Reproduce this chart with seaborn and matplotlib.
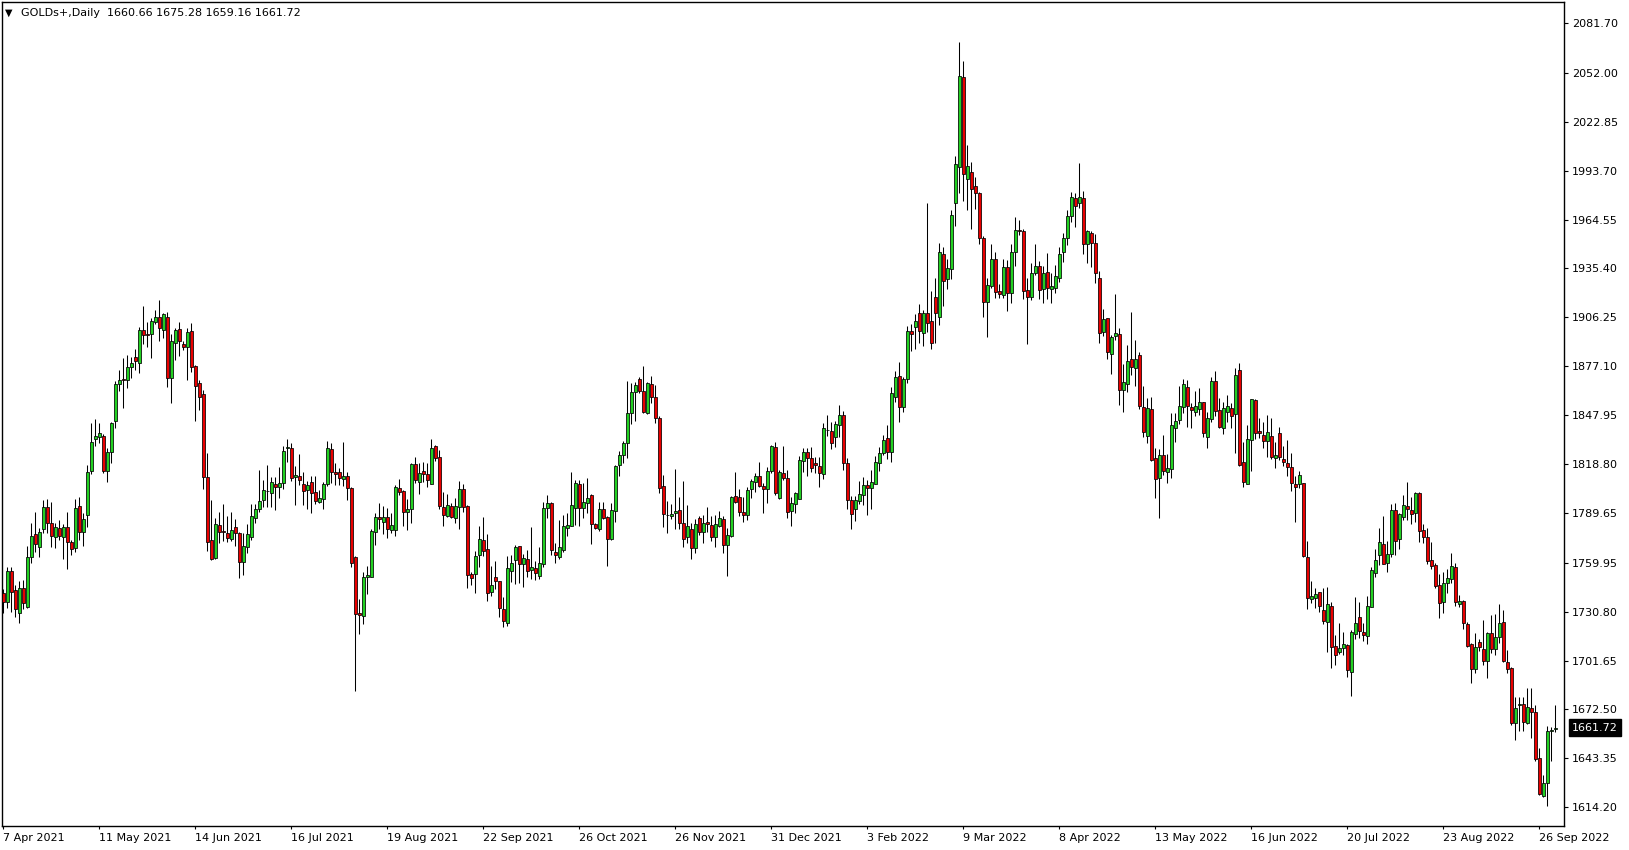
import numpy as np
import pandas as pd
import seaborn as sns
import matplotlib
matplotlib.use('Agg')
import matplotlib.pyplot as plt
import matplotlib.transforms as mtransforms

# daily gold candles, 7 Apr 2021 -> end Sep 2022
SYMBOL = 'GOLDs+,Daily'
OPENS = [
    1741.7, 1736.7, 1755.0, 1743.7, 1729.8, 1744.7, 1733.4, 1763.6, 1777.1, 1769.5,
    1779.9, 1793.2, 1783.4, 1775.1, 1780.5, 1775.5, 1781.1, 1772.1, 1768.5, 1793.8,
    1778.5, 1788.2, 1814.6, 1833.9, 1835.1, 1835.7, 1814.8, 1826.2, 1844.6, 1866.3,
    1869.3, 1868.9, 1876.4, 1882.4, 1879.3, 1898.5, 1896.4, 1896.1, 1903.7, 1906.7,
    1898.5, 1906.3, 1869.9, 1890.8, 1899.1, 1890.4, 1888.8, 1897.9, 1877.1, 1866.9,
    1860.4, 1810.9, 1773.5, 1763.0, 1782.3, 1778.9, 1777.5, 1774.0, 1781.1, 1777.5,
    1760.6, 1769.2, 1775.5, 1786.5, 1792.0, 1797.4, 1802.7, 1801.3, 1806.9, 1804.9,
    1807.3, 1828.6, 1828.2, 1810.9, 1811.7, 1806.9, 1803.3, 1808.1, 1802.1, 1796.4,
    1797.8, 1806.7, 1827.8, 1814.1, 1814.1, 1809.7, 1811.7, 1804.5, 1763.4, 1730.2,
    1728.4, 1751.3, 1751.7, 1778.1, 1787.0, 1784.5, 1787.0, 1779.5, 1779.5, 1804.3,
    1802.7, 1790.4, 1791.8, 1818.8, 1808.3, 1814.5, 1812.7, 1806.7, 1829.6, 1822.8,
    1793.0, 1788.0, 1793.6, 1786.8, 1793.0, 1803.7, 1793.8, 1753.3, 1753.1, 1764.4,
    1773.5, 1768.2, 1742.7, 1751.5, 1749.1, 1732.4, 1724.3, 1755.2, 1761.6, 1770.0,
    1759.4, 1762.0, 1755.7, 1756.7, 1752.3, 1759.0, 1792.8, 1795.4, 1766.4, 1763.2,
    1767.6, 1780.9, 1782.1, 1792.4, 1806.9, 1792.8, 1795.4, 1800.4, 1783.1, 1780.1,
    1791.8, 1787.4, 1773.9, 1791.0, 1818.0, 1824.0, 1831.6, 1849.0, 1861.6, 1869.5,
    1862.4, 1849.4, 1866.5, 1858.6, 1846.1, 1805.7, 1788.4, 1788.1, 1789.4, 1791.4,
    1783.5, 1775.1, 1780.1, 1768.6, 1786.5, 1778.1, 1784.3, 1782.5, 1775.1, 1781.9,
    1786.1, 1770.4, 1775.9, 1799.6, 1799.0, 1790.0, 1788.2, 1803.7, 1808.3, 1811.7,
    1805.7, 1803.7, 1814.9, 1828.8, 1798.4, 1813.3, 1810.3, 1791.0, 1794.8, 1797.8,
    1820.9, 1825.8, 1822.2, 1819.5, 1817.7, 1812.7, 1839.1, 1838.5, 1834.8, 1841.9,
    1847.9, 1819.3, 1797.2, 1791.8, 1797.0, 1800.2, 1806.1, 1804.4, 1806.7, 1819.7,
    1825.2, 1834.2, 1826.2, 1859.0, 1871.3, 1852.6, 1869.7, 1898.0, 1900.3, 1908.7,
    1897.2, 1908.7, 1904.1, 1918.6, 1906.3, 1944.0, 1928.9, 1935.3, 1974.2, 1995.7,
    2049.3, 1988.5, 1992.7, 1984.6, 1980.6, 1953.4, 1915.6, 1925.0, 1940.8, 1922.0,
    1919.6, 1936.1, 1920.6, 1945.0, 1958.1, 1957.7, 1922.6, 1918.6, 1932.5, 1936.9,
    1923.4, 1933.1, 1923.4, 1923.6, 1929.9, 1945.0, 1953.3, 1966.9, 1977.2, 1974.2,
    1977.2, 1949.8, 1956.3, 1950.4, 1929.5, 1897.7, 1905.7, 1884.4, 1895.1, 1896.3,
    1862.9, 1866.3, 1881.2, 1875.9, 1883.8, 1853.0, 1835.7, 1851.4, 1822.2, 1810.3,
    1824.2, 1814.3, 1815.6, 1840.1, 1844.9, 1852.6, 1864.9, 1852.6, 1849.6, 1851.8,
    1855.6, 1835.1, 1845.5, 1868.3, 1851.0, 1840.5, 1849.6, 1852.0, 1848.5, 1874.9,
    1819.8, 1806.7, 1833.2, 1857.0, 1838.5, 1836.1, 1832.4, 1835.5, 1822.2, 1837.3,
    1821.8, 1819.2, 1816.9, 1806.9, 1806.7, 1807.3, 1763.2, 1738.2, 1738.8, 1742.3,
    1731.8, 1724.9, 1734.2, 1710.4, 1707.0, 1709.0, 1711.0, 1695.1, 1717.3, 1727.7,
    1718.5, 1716.5, 1733.8, 1754.1, 1764.6, 1771.2, 1760.1, 1765.2, 1791.4, 1774.0,
    1787.4, 1793.8, 1791.2, 1789.4, 1801.3, 1779.3, 1775.1, 1761.6, 1758.6, 1746.7,
    1736.8, 1748.1, 1750.3, 1757.5, 1735.2, 1737.1, 1723.4, 1711.3, 1696.4, 1712.5,
    1708.3, 1701.4, 1717.9, 1708.3, 1715.9, 1724.4, 1701.0, 1697.0, 1664.2, 1675.3,
    1675.5, 1664.2, 1673.2, 1670.8, 1643.4, 1620.9, 1628.5, 1659.6, 1660.66,
]
HIGHS = [
    1744.1, 1757.6, 1757.6, 1746.5, 1749.1, 1749.7, 1769.9, 1783.4, 1790.2, 1780.5,
    1797.3, 1797.7, 1796.0, 1783.4, 1785.4, 1783.0, 1790.0, 1773.5, 1797.7, 1799.3,
    1789.4, 1818.0, 1843.0, 1845.4, 1843.0, 1836.7, 1828.5, 1844.0, 1868.5, 1874.8,
    1882.0, 1884.0, 1882.5, 1887.2, 1900.3, 1913.0, 1903.5, 1905.7, 1910.6, 1916.6,
    1909.1, 1909.4, 1896.3, 1899.7, 1903.5, 1892.4, 1900.1, 1902.7, 1877.7, 1868.9,
    1863.0, 1825.2, 1797.4, 1786.7, 1790.1, 1794.8, 1787.7, 1790.1, 1785.9, 1778.1,
    1777.5, 1782.9, 1794.8, 1794.8, 1815.3, 1809.3, 1818.2, 1811.3, 1811.3, 1817.2,
    1829.6, 1833.5, 1831.5, 1817.6, 1824.8, 1813.9, 1808.9, 1811.7, 1811.7, 1803.3,
    1808.3, 1832.5, 1831.2, 1819.2, 1816.2, 1831.7, 1814.3, 1804.9, 1764.0, 1738.2,
    1754.3, 1758.0, 1779.9, 1789.8, 1795.4, 1793.8, 1792.4, 1789.4, 1806.3, 1809.7,
    1803.3, 1798.0, 1819.6, 1822.8, 1819.2, 1819.8, 1819.6, 1833.7, 1830.2, 1827.2,
    1802.1, 1800.9, 1795.8, 1798.4, 1808.7, 1806.9, 1794.4, 1754.7, 1767.2, 1781.9,
    1787.0, 1777.1, 1758.0, 1761.2, 1749.1, 1739.7, 1764.0, 1764.6, 1770.5, 1770.0,
    1765.2, 1767.6, 1781.5, 1761.2, 1769.6, 1796.4, 1800.4, 1796.4, 1772.0, 1785.5,
    1788.4, 1789.4, 1814.3, 1809.3, 1809.3, 1807.3, 1810.3, 1801.0, 1783.9, 1796.4,
    1796.4, 1788.0, 1795.4, 1818.2, 1826.8, 1832.8, 1868.3, 1867.3, 1867.9, 1870.9,
    1877.3, 1867.5, 1871.3, 1865.9, 1847.5, 1812.3, 1797.0, 1795.0, 1815.9, 1799.0,
    1808.7, 1794.4, 1783.5, 1786.1, 1787.9, 1788.4, 1793.0, 1787.9, 1788.4, 1791.0,
    1787.9, 1780.9, 1799.8, 1814.3, 1803.9, 1799.4, 1804.9, 1809.9, 1813.7, 1820.2,
    1807.7, 1817.3, 1830.2, 1831.8, 1815.3, 1829.6, 1815.3, 1799.0, 1802.4, 1823.6,
    1828.6, 1828.6, 1828.8, 1823.2, 1823.2, 1843.5, 1848.1, 1843.7, 1844.7, 1854.0,
    1850.5, 1822.6, 1799.8, 1799.8, 1808.7, 1811.3, 1809.3, 1815.3, 1823.6, 1829.2,
    1836.2, 1842.1, 1865.0, 1874.3, 1879.5, 1870.9, 1901.3, 1902.3, 1908.3, 1914.2,
    1910.7, 1974.2, 1922.0, 1929.9, 1950.4, 1948.0, 1940.8, 1970.3, 2002.4, 2070.2,
    2059.1, 2009.0, 1998.7, 1990.1, 1980.8, 1954.8, 1929.5, 1950.0, 1945.4, 1926.2,
    1941.1, 1940.5, 1949.8, 1965.9, 1964.3, 1958.7, 1929.5, 1938.5, 1949.8, 1939.8,
    1936.9, 1944.4, 1932.5, 1937.5, 1948.4, 1956.3, 1970.2, 1981.2, 1980.2, 1998.1,
    1981.8, 1958.3, 1957.7, 1955.9, 1934.1, 1911.0, 1905.7, 1895.7, 1920.0, 1899.7,
    1878.2, 1889.8, 1909.6, 1892.7, 1885.8, 1865.3, 1858.0, 1858.6, 1828.6, 1827.6,
    1836.1, 1824.8, 1849.0, 1849.0, 1865.3, 1869.3, 1868.9, 1855.0, 1862.6, 1864.1,
    1856.0, 1850.0, 1870.5, 1874.3, 1858.0, 1856.0, 1860.0, 1855.4, 1875.9, 1878.9,
    1832.2, 1842.1, 1857.4, 1857.4, 1846.1, 1844.1, 1848.1, 1846.1, 1831.8, 1840.7,
    1829.6, 1833.2, 1825.2, 1811.9, 1814.7, 1807.3, 1773.1, 1749.1, 1745.1, 1742.3,
    1744.8, 1745.8, 1736.8, 1716.9, 1723.9, 1718.5, 1711.6, 1719.9, 1739.8, 1736.6,
    1724.3, 1740.2, 1757.6, 1768.2, 1780.5, 1787.9, 1773.2, 1795.0, 1795.4, 1789.8,
    1800.4, 1807.9, 1799.0, 1802.0, 1802.0, 1783.1, 1780.5, 1772.2, 1759.6, 1753.3,
    1754.3, 1756.2, 1765.6, 1760.0, 1740.7, 1737.7, 1724.8, 1711.9, 1718.3, 1714.3,
    1725.8, 1718.9, 1728.8, 1729.4, 1735.4, 1731.8, 1707.9, 1697.6, 1680.1, 1679.7,
    1680.1, 1685.1, 1685.1, 1675.1, 1649.3, 1633.4, 1662.6, 1662.2, 1675.28,
]
LOWS = [
    1730.2, 1732.8, 1730.8, 1727.4, 1723.8, 1732.2, 1732.8, 1759.6, 1766.5, 1763.6,
    1777.5, 1777.5, 1769.5, 1768.5, 1773.5, 1762.2, 1756.0, 1764.6, 1766.5, 1773.5,
    1770.1, 1781.4, 1812.6, 1829.7, 1831.1, 1813.2, 1808.3, 1819.6, 1840.5, 1862.3,
    1852.0, 1863.9, 1870.0, 1874.9, 1872.9, 1890.4, 1888.4, 1882.2, 1902.1, 1892.4,
    1894.2, 1864.9, 1855.0, 1880.8, 1883.4, 1886.8, 1868.9, 1873.9, 1844.7, 1851.0,
    1803.8, 1767.2, 1761.6, 1762.0, 1772.0, 1773.2, 1772.6, 1773.2, 1770.0, 1750.7,
    1752.7, 1765.6, 1773.5, 1783.5, 1790.4, 1793.4, 1793.4, 1793.0, 1791.4, 1798.4,
    1803.9, 1820.2, 1808.9, 1794.4, 1806.3, 1794.4, 1792.0, 1789.4, 1795.0, 1795.4,
    1792.0, 1805.7, 1807.3, 1806.3, 1806.3, 1805.7, 1797.4, 1757.6, 1683.7, 1717.5,
    1723.5, 1741.3, 1751.7, 1770.5, 1779.9, 1777.1, 1774.5, 1777.9, 1775.9, 1800.4,
    1781.9, 1779.5, 1783.9, 1807.3, 1800.9, 1808.3, 1804.9, 1806.7, 1820.8, 1792.0,
    1781.9, 1787.0, 1786.4, 1783.5, 1780.1, 1790.4, 1745.1, 1746.7, 1742.1, 1757.6,
    1764.2, 1737.4, 1740.1, 1744.5, 1727.4, 1721.5, 1722.3, 1748.7, 1747.3, 1748.1,
    1745.7, 1751.7, 1750.1, 1749.7, 1750.3, 1757.6, 1786.5, 1764.6, 1760.0, 1762.0,
    1766.6, 1776.1, 1782.1, 1782.5, 1781.9, 1786.5, 1789.4, 1771.2, 1780.1, 1779.1,
    1785.9, 1758.0, 1773.5, 1784.5, 1811.9, 1819.2, 1822.2, 1842.5, 1844.5, 1861.4,
    1849.4, 1848.6, 1855.4, 1843.1, 1801.8, 1781.5, 1777.9, 1785.9, 1779.9, 1779.9,
    1769.6, 1772.0, 1762.0, 1766.0, 1776.5, 1772.0, 1778.1, 1772.9, 1769.6, 1781.3,
    1766.0, 1752.3, 1775.5, 1795.4, 1787.9, 1784.5, 1785.5, 1798.4, 1802.4, 1804.9,
    1789.4, 1795.8, 1813.7, 1800.4, 1797.8, 1809.3, 1786.5, 1781.9, 1789.9, 1797.8,
    1814.3, 1811.9, 1814.3, 1813.3, 1805.4, 1810.1, 1835.6, 1828.0, 1829.2, 1834.8,
    1815.3, 1791.8, 1779.9, 1784.9, 1795.0, 1794.4, 1788.5, 1791.8, 1806.7, 1814.9,
    1824.2, 1821.7, 1820.3, 1856.0, 1844.1, 1850.1, 1867.4, 1886.4, 1887.2, 1891.2,
    1889.2, 1897.7, 1887.2, 1890.8, 1901.7, 1913.0, 1923.0, 1929.1, 1960.9, 1980.6,
    1975.8, 1970.3, 1958.7, 1970.7, 1949.8, 1906.7, 1894.8, 1923.6, 1917.6, 1918.0,
    1918.0, 1910.3, 1915.0, 1936.9, 1955.4, 1917.0, 1890.2, 1916.6, 1931.5, 1917.0,
    1915.0, 1917.0, 1915.0, 1920.6, 1927.5, 1939.4, 1949.4, 1962.9, 1959.9, 1971.2,
    1943.8, 1938.8, 1936.5, 1926.5, 1891.2, 1895.3, 1881.2, 1872.3, 1892.7, 1854.0,
    1850.0, 1861.5, 1871.9, 1865.5, 1851.6, 1835.1, 1831.5, 1820.8, 1798.8, 1786.4,
    1812.3, 1807.3, 1810.3, 1832.1, 1842.7, 1849.0, 1841.1, 1840.5, 1847.7, 1848.1,
    1834.7, 1828.2, 1844.1, 1847.5, 1840.5, 1836.5, 1844.1, 1840.1, 1825.2, 1817.7,
    1804.9, 1806.7, 1814.9, 1833.5, 1834.5, 1828.6, 1823.2, 1821.6, 1816.7, 1821.2,
    1817.7, 1811.9, 1802.7, 1784.5, 1804.3, 1763.6, 1732.2, 1736.2, 1732.8, 1730.8,
    1723.3, 1707.0, 1697.5, 1699.1, 1705.6, 1705.0, 1692.1, 1680.6, 1714.4, 1715.0,
    1713.6, 1711.4, 1733.4, 1751.7, 1758.6, 1759.3, 1754.3, 1763.2, 1764.6, 1768.0,
    1785.5, 1785.5, 1783.1, 1784.5, 1772.5, 1771.5, 1759.3, 1756.0, 1744.7, 1727.2,
    1730.2, 1742.1, 1748.1, 1734.2, 1733.8, 1720.3, 1709.5, 1688.5, 1694.4, 1707.5,
    1699.0, 1691.0, 1705.9, 1705.0, 1711.9, 1701.0, 1694.0, 1663.2, 1654.3, 1659.8,
    1659.8, 1663.6, 1655.3, 1642.0, 1621.5, 1620.5, 1614.9, 1642.0, 1659.16,
]
CLOSES = [
    1736.7, 1755.0, 1742.7, 1732.2, 1744.7, 1735.7, 1763.2, 1775.9, 1771.1, 1778.1,
    1793.2, 1783.4, 1776.1, 1781.1, 1776.1, 1781.1, 1772.1, 1767.9, 1792.4, 1778.5,
    1785.8, 1814.2, 1831.7, 1835.3, 1837.1, 1814.8, 1825.8, 1843.0, 1866.5, 1868.7,
    1869.0, 1876.4, 1879.2, 1880.4, 1898.5, 1896.0, 1895.5, 1904.1, 1906.3, 1899.7,
    1908.3, 1870.3, 1892.0, 1898.5, 1892.4, 1888.4, 1897.5, 1876.5, 1865.5, 1858.6,
    1811.3, 1772.6, 1762.0, 1782.9, 1778.1, 1778.1, 1774.5, 1779.5, 1777.9, 1760.6,
    1770.0, 1776.9, 1787.8, 1792.0, 1796.8, 1803.4, 1802.5, 1807.9, 1805.3, 1807.3,
    1826.6, 1828.8, 1810.3, 1812.3, 1809.3, 1802.9, 1806.1, 1801.3, 1797.0, 1798.6,
    1806.9, 1828.2, 1814.3, 1813.1, 1810.3, 1811.7, 1804.3, 1760.0, 1729.2, 1728.6,
    1751.7, 1752.7, 1779.1, 1787.0, 1785.8, 1787.0, 1779.9, 1782.5, 1804.9, 1802.3,
    1790.4, 1791.8, 1818.8, 1809.3, 1813.3, 1813.1, 1809.3, 1828.2, 1822.6, 1793.8,
    1788.4, 1794.2, 1787.4, 1793.6, 1803.7, 1793.4, 1752.7, 1751.1, 1764.0, 1774.1,
    1767.2, 1742.1, 1746.7, 1749.3, 1733.2, 1725.4, 1756.6, 1759.6, 1769.4, 1759.4,
    1762.8, 1755.0, 1757.2, 1753.7, 1759.6, 1792.4, 1795.4, 1767.6, 1764.8, 1769.2,
    1781.9, 1782.3, 1794.4, 1807.3, 1792.4, 1796.0, 1798.4, 1782.9, 1780.5, 1791.8,
    1786.9, 1773.9, 1791.4, 1817.7, 1824.2, 1831.2, 1849.0, 1862.0, 1865.9, 1862.6,
    1850.0, 1866.9, 1858.6, 1846.5, 1804.3, 1788.8, 1788.2, 1789.0, 1790.6, 1783.9,
    1773.9, 1781.9, 1768.6, 1782.9, 1778.1, 1783.5, 1782.9, 1775.1, 1782.9, 1786.5,
    1770.4, 1776.3, 1799.0, 1796.0, 1790.4, 1788.6, 1803.4, 1808.7, 1811.7, 1805.9,
    1804.1, 1814.9, 1829.6, 1801.4, 1814.1, 1810.3, 1790.4, 1795.8, 1801.4, 1821.3,
    1825.8, 1822.2, 1816.3, 1818.5, 1813.3, 1840.1, 1839.3, 1831.6, 1842.5, 1847.9,
    1819.3, 1797.4, 1788.9, 1797.2, 1800.8, 1806.1, 1804.4, 1807.9, 1819.9, 1825.6,
    1833.2, 1826.2, 1861.0, 1870.5, 1853.0, 1869.3, 1898.0, 1896.6, 1904.1, 1897.8,
    1908.7, 1903.1, 1890.8, 1908.7, 1945.4, 1928.1, 1935.5, 1967.1, 1997.5, 2050.1,
    1991.5, 1996.5, 1982.6, 1980.2, 1953.4, 1915.6, 1925.4, 1940.8, 1921.2, 1920.0,
    1936.1, 1920.6, 1945.0, 1958.1, 1957.7, 1922.2, 1918.6, 1932.5, 1936.7, 1922.6,
    1932.5, 1923.6, 1925.0, 1931.1, 1943.8, 1953.3, 1966.5, 1977.8, 1972.8, 1978.2,
    1949.8, 1957.7, 1950.8, 1932.5, 1897.1, 1905.1, 1885.8, 1894.3, 1896.7, 1862.9,
    1867.5, 1880.4, 1876.8, 1881.2, 1853.6, 1838.1, 1852.0, 1821.2, 1809.7, 1824.2,
    1814.9, 1816.2, 1841.9, 1844.5, 1853.4, 1866.3, 1853.4, 1850.8, 1853.4, 1855.6,
    1837.1, 1846.1, 1868.3, 1850.6, 1841.1, 1852.0, 1853.4, 1847.7, 1871.9, 1818.2,
    1807.9, 1833.5, 1857.4, 1837.1, 1837.5, 1832.8, 1837.7, 1822.8, 1824.0, 1822.8,
    1819.8, 1817.3, 1807.3, 1805.3, 1812.1, 1764.2, 1738.8, 1740.2, 1741.3, 1734.2,
    1725.5, 1735.2, 1709.6, 1705.0, 1709.0, 1711.6, 1696.1, 1718.5, 1723.9, 1719.5,
    1716.9, 1734.2, 1755.7, 1761.6, 1772.2, 1759.5, 1765.2, 1791.4, 1773.1, 1789.0,
    1794.4, 1792.0, 1789.2, 1801.3, 1779.1, 1775.5, 1761.2, 1758.2, 1746.1, 1736.2,
    1747.7, 1750.7, 1758.2, 1736.7, 1737.1, 1723.8, 1710.3, 1696.6, 1709.5, 1709.5,
    1701.6, 1717.9, 1708.3, 1715.5, 1724.2, 1701.6, 1696.4, 1664.2, 1673.2, 1675.5,
    1664.8, 1673.8, 1670.8, 1642.8, 1622.1, 1628.9, 1659.6, 1660.0, 1661.72,
]
DATE_LABELS = ['7 Apr 2021', '11 May 2021', '14 Jun 2021', '16 Jul 2021', '19 Aug 2021',
               '22 Sep 2021', '26 Oct 2021', '26 Nov 2021', '31 Dec 2021', '3 Feb 2022',
               '9 Mar 2022', '8 Apr 2022', '13 May 2022', '16 Jun 2022', '20 Jul 2022',
               '23 Aug 2022', '26 Sep 2022']
LABEL_EVERY = 24  # one date label every 24 bars
PRICE_TICKS = [1614.20, 1643.35, 1672.50, 1701.65, 1730.80, 1759.95, 1789.65, 1818.80,
               1847.95, 1877.10, 1906.25, 1935.40, 1964.55, 1993.70, 2022.85, 2052.00, 2081.70]

BULL = '#22d022'
BEAR = '#e80000'

df = pd.DataFrame({'open': OPENS, 'high': HIGHS, 'low': LOWS, 'close': CLOSES})
df['bar'] = np.arange(len(df))
df['up'] = df['close'] >= df['open']
df['body_lo'] = df[['open', 'close']].min(axis=1)
df['body_h'] = (df['close'] - df['open']).abs()

sns.set_theme(style='white')
plt.rcParams['font.family'] = ['DejaVu Sans']

W, H = 1629, 850
fig = plt.figure(figsize=(W / 100, H / 100), dpi=100)
fig.patch.set_facecolor('white')
ax = fig.add_axes([2 / W, 24 / H, 1561.6 / W, 824 / H])

# wicks then bodies
ax.vlines(df['bar'], df['low'], df['high'], color='black', lw=0.75, zorder=2)
ax.bar(df['bar'], df['body_h'], bottom=df['body_lo'], width=0.72,
       color=np.where(df['up'], BULL, BEAR), edgecolor='black', lw=0.55, zorder=3)

ax.set_xlim(-0.33, 390.07)
ax.set_ylim(1603.05, 2094.2)

ax.yaxis.tick_right()
ax.set_yticks(PRICE_TICKS)
ax.set_yticklabels([f'{p:.2f}' for p in PRICE_TICKS])
label_bars = list(range(0, len(df), LABEL_EVERY))[:len(DATE_LABELS)]
ax.set_xticks(label_bars)
ax.set_xticklabels(DATE_LABELS, ha='left')
ax.tick_params(axis='y', which='major', right=True, left=False, length=3, width=0.8,
               pad=3, labelsize=8, colors='black')
ax.tick_params(axis='x', which='major', bottom=True, length=2, width=0.8,
               pad=3, labelsize=8, colors='black')
for sp in ax.spines.values():
    sp.set_color('black')
    sp.set_linewidth(1.0)
ax.grid(False)

# current price tag on the price scale
last = df['close'].iloc[-1]
trans = mtransforms.blended_transform_factory(ax.transAxes, ax.transData)
ax.text(1.00538, last, f'{last:.2f}', transform=trans, va='center', ha='left',
        fontsize=8, color='white', clip_on=False,
        bbox=dict(boxstyle='square,pad=0.3', fc='black', ec='black'))

# header line
fig.text(5 / W, 1 - 12.5 / H, '\u25bc', fontsize=7, va='center', ha='left', color='black')
o, h, l, c = df.iloc[-1][['open', 'high', 'low', 'close']]
fig.text(21 / W, 1 - 12.5 / H, f'{SYMBOL}  {o:.2f} {h:.2f} {l:.2f} {c:.2f}',
         fontsize=8, va='center', ha='left', color='black')

fig.savefig('out.png', dpi=100)
